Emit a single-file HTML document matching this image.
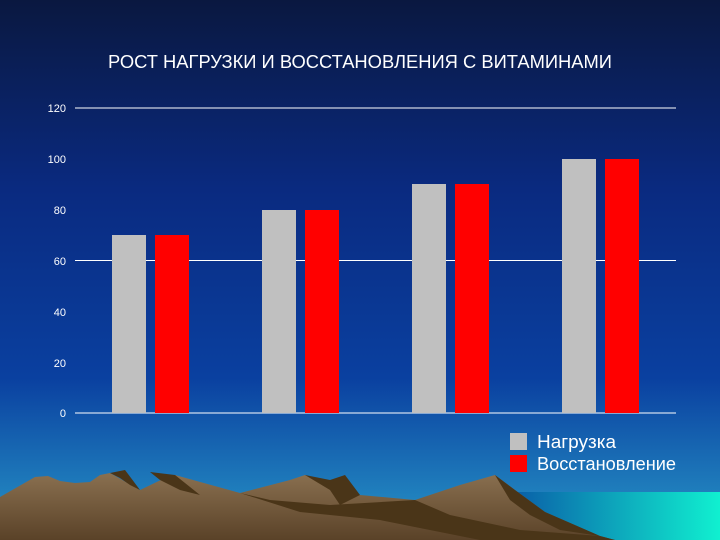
<!DOCTYPE html>
<html><head><meta charset="utf-8"><style>
body{margin:0}
svg{display:block}
text{font-family:"Liberation Sans",sans-serif}
</style></head><body>
<svg width="720" height="540" viewBox="0 0 720 540" xmlns="http://www.w3.org/2000/svg">
<defs>
<linearGradient id="bg" x1="0" y1="0" x2="0" y2="1">
<stop offset="0" stop-color="#0a1840"/>
<stop offset="0.35" stop-color="#0a2a80"/>
<stop offset="0.7" stop-color="#0a40a0"/>
<stop offset="1" stop-color="#2898c8"/>
</linearGradient>
<linearGradient id="sea" x1="0" y1="0" x2="1" y2="0">
<stop offset="0" stop-color="#0a5fa8"/>
<stop offset="1" stop-color="#10f0d0"/>
</linearGradient>
<linearGradient id="mt" x1="0" y1="0" x2="0" y2="1">
<stop offset="0" stop-color="#8a7050"/>
<stop offset="1" stop-color="#5a4228"/>
</linearGradient>
</defs>
<rect width="720" height="540" fill="url(#bg)"/>
<rect x="515" y="492" width="205" height="48" fill="url(#sea)"/>
<polygon fill="url(#mt)" points="0,497 35,477 48,476 60,481 75,483 90,482 100,475 110,473 140,490 165,478 175,475 240,493 290,480 305,475 340,490 360,495 415,500 460,485 495,475 515,490 545,512 600,536 615,540 0,540"/>
<polygon fill="#4a3518" points="110,473 125,470 140,490 130,485 120,478" />
<polygon fill="#4a3518" points="240,493 270,500 330,505 415,500 450,515 520,530 600,536 615,540 480,540 380,520 300,512"/>
<polygon fill="#4a3518" points="305,475 330,480 345,475 360,495 340,505 330,490"/>
<polygon fill="#4a3518" points="495,475 515,490 545,512 600,536 560,530 530,515 510,500"/>
<polygon fill="#4a3518" points="150,472 175,475 200,495 180,490 160,480"/>
<text x="360" y="68" fill="#fff" font-size="18" text-anchor="middle" textLength="504" lengthAdjust="spacingAndGlyphs">РОСТ НАГРУЗКИ И ВОССТАНОВЛЕНИЯ С ВИТАМИНАМИ</text>
<g stroke="#fff" stroke-width="1">
<line x1="75" y1="108" x2="676" y2="108"/>
<line x1="75" y1="260.5" x2="676" y2="260.5"/>
<line x1="75" y1="413" x2="676" y2="413"/>
</g>
<g fill="#fff" font-size="11" text-anchor="end">
<text x="66" y="112">120</text><text x="66" y="163">100</text><text x="66" y="214">80</text>
<text x="66" y="265">60</text><text x="66" y="316">40</text><text x="66" y="367">20</text><text x="66" y="417">0</text>
</g>
<g fill="#c0c0c0">
<rect x="112" y="235" width="34" height="178"/>
<rect x="262" y="210" width="34" height="203"/>
<rect x="412" y="184" width="34" height="229"/>
<rect x="562" y="159" width="34" height="254"/>
</g>
<g fill="#ff0000">
<rect x="155" y="235" width="34" height="178"/>
<rect x="305" y="210" width="34" height="203"/>
<rect x="455" y="184" width="34" height="229"/>
<rect x="605" y="159" width="34" height="254"/>
</g>
<rect x="510" y="433" width="17" height="17" fill="#c0c0c0"/>
<rect x="510" y="455" width="17" height="17" fill="#ff0000"/>
<text x="537" y="448" fill="#fff" font-size="18" textLength="79" lengthAdjust="spacingAndGlyphs">Нагрузка</text>
<text x="537" y="470" fill="#fff" font-size="18" textLength="139" lengthAdjust="spacingAndGlyphs">Восстановление</text>
</svg>
</body></html>
